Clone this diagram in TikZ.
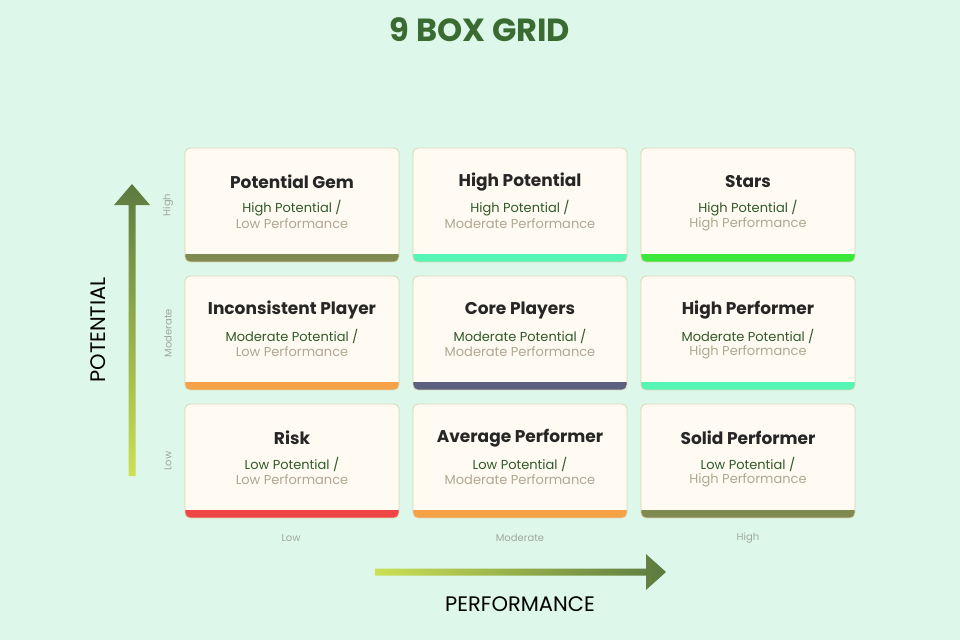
\documentclass[tikz,border=0pt]{standalone}
\usepackage{fontspec}
\setmainfont{Poppins}
\definecolor{bgmint}{HTML}{DDF8EA}
\definecolor{cardfill}{HTML}{FFFAF2}
\definecolor{cardline}{HTML}{DCD4B4}
\definecolor{darkgreen}{HTML}{3A6B30}
\definecolor{olive}{HTML}{7F8A4F}
\definecolor{mint}{HTML}{55F5B4}
\definecolor{brightgreen}{HTML}{3AE83A}
\definecolor{orangebar}{HTML}{F5A145}
\definecolor{slatebar}{HTML}{5B6080}
\definecolor{redbar}{HTML}{F04545}
\definecolor{subgreen}{HTML}{2F5A2A}
\definecolor{subgrey}{HTML}{B0A890}
\definecolor{axisgrey}{HTML}{A0A8A0}
\definecolor{arrowlight}{HTML}{CCE055}
\definecolor{arrowdark}{HTML}{5C7A40}
\tikzset{
  card/.style={draw=cardline, fill=cardfill, rounded corners=5pt, line width=0.8pt},
  cardtitle/.style={font=\fontsize{17}{20}\selectfont\bfseries, text=black!85},
  cardsub/.style={font=\fontsize{13}{16}\selectfont, align=center},
  axislabel/.style={font=\fontsize{10}{12}\selectfont, text=axisgrey}
}
\begin{document}
\begin{tikzpicture}[x=1pt,y=-1pt]
    \useasboundingbox (0,0) rectangle (960,640);
    \fill[bgmint] (0,0) rectangle (960,640);

    % Title
    \node[font=\fontsize{32}{36}\selectfont\bfseries, text=darkgreen] (title) at (480,30) {9 BOX GRID};

    % Cards: x, y, name, title, potential, performance, bar colour
    \foreach \x/\y/\n/\t/\p/\q/\c in {
      185/148/gem/Potential Gem/High/Low/olive,
      413/148/highpot/High Potential/High/Moderate/mint,
      641/148/stars/Stars/High/High/brightgreen,
      185/276/incons/Inconsistent Player/Moderate/Low/orangebar,
      413/276/core/Core Players/Moderate/Moderate/slatebar,
      641/276/highperf/High Performer/Moderate/High/mint,
      185/404/risk/Risk/Low/Low/redbar,
      413/404/avg/Average Performer/Low/Moderate/orangebar,
      641/404/solid/Solid Performer/Low/High/olive} {
      \begin{scope}
        \clip[rounded corners=5pt] (\x,\y) rectangle ++(214,114);
        \fill[cardfill] (\x,\y) rectangle ++(214,114);
        \fill[\c] (\x,\y+106) rectangle ++(214,8);
      \end{scope}
      \draw[card, fill=none] (\x,\y) rectangle ++(214,114);
      \node[cardtitle] (\n) at (\x+107,\y+34) {\t};
      \node[cardsub, text=subgreen] (\n-p) at (\x+107,\y+60) {\p{} Potential /};
      \node[cardsub, text=subgrey] (\n-q) at (\x+107,\y+76) {\q{} Performance};
    }

    % Row labels
    \node[axislabel, rotate=90] (rowhigh) at (168,205) {High};
    \node[axislabel, rotate=90] (rowmod) at (168,333) {Moderate};
    \node[axislabel, rotate=90] (rowlow) at (168,461) {Low};

    % Column labels
    \node[axislabel] (collow) at (291,538) {Low};
    \node[axislabel] (colmod) at (520,538) {Moderate};
    \node[axislabel] (colhigh) at (748,538) {High};

    % Potential arrow
    \shade[bottom color=arrowlight, top color=arrowdark]
      (128.5,476) -- (128.5,205) -- (114,205) -- (132,184) -- (150,205) -- (135.5,205) -- (135.5,476) -- cycle;
    \node[font=\fontsize{21}{24}\selectfont, rotate=90] (potential) at (98,330) {POTENTIAL};

    % Performance arrow
    \shade[left color=arrowlight, right color=arrowdark]
      (375,568.5) -- (646,568.5) -- (646,554) -- (666,572) -- (646,590) -- (646,575.5) -- (375,575.5) -- cycle;
    \node[font=\fontsize{21}{24}\selectfont] (performance) at (520,604) {PERFORMANCE};
\end{tikzpicture}
\end{document}
